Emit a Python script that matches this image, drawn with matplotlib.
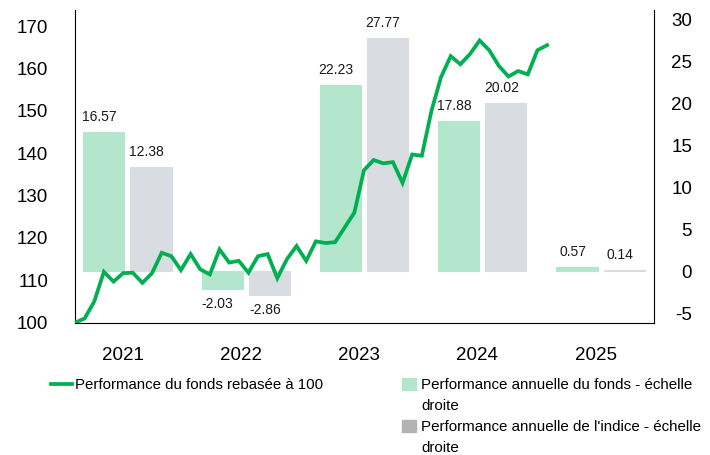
import numpy as np
import matplotlib
matplotlib.use("Agg")
import matplotlib.pyplot as plt
from matplotlib.lines import Line2D
from matplotlib.patches import Patch
from matplotlib.transforms import offset_copy

plt.rcParams['font.family'] = ['Liberation Sans', 'DejaVu Sans']
plt.rcParams['axes.unicode_minus'] = False

# ---- data ----
years = ["2021", "2022", "2023", "2024", "2025"]
fund_perf = [16.57, -2.03, 22.23, 17.88, 0.57]
index_perf = [12.38, -2.86, 27.77, 20.02, 0.14]
fund_rebased = [100.0, 101.0, 105.0, 112.0, 109.7, 111.7, 111.8, 109.4, 111.7, 116.5,
                115.7, 112.4, 116.2, 112.6, 111.4, 117.3, 114.2, 114.6, 111.8, 115.7,
                116.2, 110.5, 115.0, 118.1, 114.6, 119.2, 118.8, 119.0, 122.5, 126.0,
                136.0, 138.4, 137.6, 137.9, 133.0, 139.7, 139.4, 150.0, 158.0, 162.9,
                161.0, 163.4, 166.6, 164.3, 160.6, 158.1, 159.4, 158.6, 164.3, 165.5]

line_label = "Performance du fonds rebasée à 100"
fund_label = ["Performance annuelle du fonds - échelle", "droite"]
index_label = ["Performance annuelle de l'indice - échelle", "droite"]

LINE_C = "#00b050"
FUND_C = "#b3e6cc"
INDEX_C = "#d9dde1"
LEG_GREY = "#b3b3b3"

W, H = 710, 455
fig = plt.figure(figsize=(W / 100, H / 100), dpi=100)
rect = [74.5 / W, 1 - 322.7 / H, (654 - 74.5) / W, (322.7 - 10) / H]

ax_bar = fig.add_axes(rect)
ax_line = fig.add_axes(rect, facecolor="none")

# ---- bars (right axis) ----
x = np.arange(len(years))
bw = 0.347
off = 0.199
b1 = ax_bar.bar(x - off, fund_perf, bw, color=FUND_C, edgecolor=FUND_C, linewidth=0.8, zorder=2)
b2 = ax_bar.bar(x + off, index_perf, bw, color=INDEX_C, edgecolor=INDEX_C, linewidth=0.8, zorder=2)
ax_bar.set_xlim(-0.448, 4.452)
ax_bar.set_ylim(-6.1, 31.13)
ax_bar.yaxis.tick_right()
ax_bar.set_yticks([-5, 0, 5, 10, 15, 20, 25, 30])
ax_bar.tick_params(axis='y', length=0, pad=27.5, labelsize=13.5)
for t in ax_bar.get_yticklabels():
    t.set_horizontalalignment('right')
ax_bar.set_xticks(x)
ax_bar.set_xticklabels(years)
ax_bar.tick_params(axis='x', length=0, pad=17.5, labelsize=13.5)
for t in ax_bar.get_xticklabels():
    t.set_transform(offset_copy(t.get_transform(), fig=fig, x=-5, y=0, units='dots'))
for s in ["top", "left"]:
    ax_bar.spines[s].set_visible(False)
ax_bar.spines["right"].set_color("black")
ax_bar.spines["bottom"].set_color("black")

for bars, vals in ((b1, fund_perf), (b2, index_perf)):
    for rct, v in zip(bars, vals):
        cx = rct.get_x() + rct.get_width() / 2
        dy = 15 if v >= 0 else -15
        ax_bar.annotate(f"{v:.2f}", (cx, v), xytext=(-4.5, dy), textcoords='offset pixels',
                        ha='center', va='center', fontsize=10, color='#1a1a1a')

# ---- line (left axis) ----
months = np.arange(len(fund_rebased))
ax_line.plot(months, fund_rebased, color=LINE_C, lw=2.7, solid_joinstyle='miter', zorder=3)
ax_line.set_xlim(-0.05, 60.1)
ax_line.set_ylim(100, 173.8)
ax_line.set_yticks([100, 110, 120, 130, 140, 150, 160, 170])
ax_line.tick_params(axis='y', length=0, pad=19, labelsize=13.5)
ax_line.set_xticks([])
for s in ["top", "right", "bottom"]:
    ax_line.spines[s].set_visible(False)
ax_line.spines["left"].set_color("black")

# ---- legends ----
leg1 = fig.legend(handles=[Line2D([0], [0], color=LINE_C, lw=2.7)], labels=[line_label],
                  loc='upper left', bbox_to_anchor=(51 / W, 1 - 378 / H), frameon=False,
                  fontsize=10.8, handlelength=1.4, handletextpad=0.2, borderpad=0,
                  borderaxespad=0)
blank = Patch(facecolor='none', edgecolor='none')
leg2 = fig.legend(handles=[Patch(color=FUND_C), blank, Patch(color=LEG_GREY), blank],
                  labels=[fund_label[0], fund_label[1], index_label[0], index_label[1]],
                  loc='upper left', bbox_to_anchor=(402 / W, 1 - 378 / H), frameon=False,
                  fontsize=10.9, handlelength=0.93, handleheight=0.87, handletextpad=0.33,
                  borderpad=0, borderaxespad=0, labelspacing=0.44)

fig.savefig("out.png", dpi=100)
